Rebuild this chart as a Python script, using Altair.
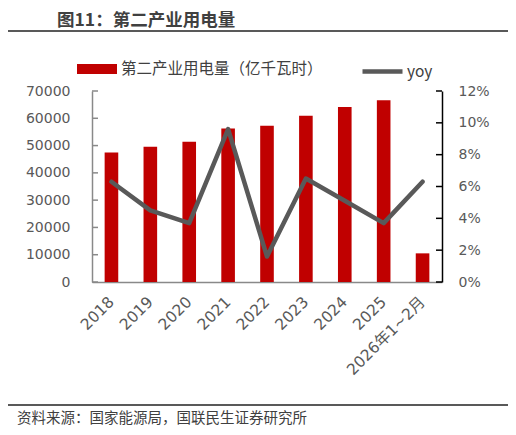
import altair as alt
import pandas as pd

categories = ["2018", "2019", "2020", "2021", "2022", "2023", "2024", "2025", "2026年1~2月"]
power = [47500, 49600, 51400, 56300, 57300, 60900, 64100, 66600, 10500]
yoy = [0.063, 0.045, 0.037, 0.096, 0.016, 0.065, 0.051, 0.037, 0.063]
left_ticks = [0, 10000, 20000, 30000, 40000, 50000, 60000, 70000]
right_ticks = [0, 0.02, 0.04, 0.06, 0.08, 0.10, 0.12]

bar_name = "第二产业用电量（亿千瓦时）"
line_name = "yoy"
title_text = "图11：第二产业用电量"
source_text = "资料来源：国家能源局，国联民生证券研究所"

FONT = "Noto Sans CJK SC"
NUMFONT = "DejaVu Sans, Noto Sans CJK SC"
W, H = 350, 191

df = pd.DataFrame({"cat": categories, "power": power, "yoy": yoy,
                   "s1": [bar_name] * len(categories), "s2": [line_name] * len(categories)})

xenc = alt.X("cat:N", sort=categories, title=None,
             scale=alt.Scale(paddingInner=0.65, paddingOuter=0.325),
             axis=alt.Axis(labelAngle=-45, labelAlign="right", labelBaseline="middle",
                           labelFontSize=15.5, labelColor="#595959", labelFont=NUMFONT,
                           ticks=False, domainColor="#898989", domainWidth=1.5,
                           labelPadding=17, labelLimit=0))

bars = alt.Chart(df).mark_bar().encode(
    x=xenc,
    y=alt.Y("power:Q", title=None,
            scale=alt.Scale(domain=[0, 70000], nice=False),
            axis=alt.Axis(orient="left", values=left_ticks, format="d", ticks=False,
                          grid=False, labelFontSize=14, labelColor="#595959", labelFont=NUMFONT,
                          domainColor="#898989", domainWidth=1.5, labelPadding=22)),
    color=alt.Color("s1:N", scale=alt.Scale(domain=[bar_name], range=["#c00000"]),
                    legend=alt.Legend(orient="none", legendX=-15, legendY=-42, title=None,
                                      symbolType="M-1,-0.25H1V0.25H-1Z", symbolSize=1600,
                                      symbolStrokeWidth=0, labelFontSize=15.5,
                                      labelColor="#404040", labelFont=FONT, labelOffset=4,
                                      labelLimit=0, padding=0)),
)

line = alt.Chart(df).mark_line(strokeWidth=4.5, strokeJoin="round", strokeCap="round").encode(
    x=alt.X("cat:N", sort=categories),
    y=alt.Y("yoy:Q", title=None,
            scale=alt.Scale(domain=[0, 0.12], nice=False),
            axis=alt.Axis(orient="right", values=right_ticks, format=".0%", ticks=False,
                          grid=False, labelFontSize=14, labelColor="#595959", labelFont=NUMFONT,
                          domainColor="#000000", domainWidth=1.5, labelPadding=16)),
    stroke=alt.Stroke("s2:N", scale=alt.Scale(domain=[line_name], range=["#595959"]),
                      legend=alt.Legend(orient="none", legendX=268, legendY=-42, title=None,
                                        symbolType="stroke", symbolSize=1600,
                                        symbolStrokeWidth=4.5, labelFontSize=15.5,
                                        labelColor="#404040", labelFont=FONT, labelOffset=2,
                                        labelLimit=0, padding=0)),
)

lt = pd.DataFrame({"v": left_ticks})
left_tick_rules = alt.Chart(lt).mark_rule(color="#898989", strokeWidth=1.5).encode(
    y=alt.Y("v:Q", scale=alt.Scale(domain=[0, 70000], nice=False), axis=None),
    x=alt.value(0), x2=alt.value(6))

rt = pd.DataFrame({"v": right_ticks})
right_tick_rules = alt.Chart(rt).mark_rule(color="#000000", strokeWidth=1.5).encode(
    y=alt.Y("v:Q", scale=alt.Scale(domain=[0, 0.12], nice=False), axis=None),
    x=alt.value(W - 6), x2=alt.value(W))

one = pd.DataFrame({"t": [title_text], "s": [source_text]})
title = alt.Chart(one).mark_text(align="left", baseline="middle", fontSize=17.5,
                                 fontWeight="bold", font=FONT, color="#404040").encode(
    text="t:N", x=alt.value(-35), y=alt.value(-70))
source = alt.Chart(one).mark_text(align="left", baseline="middle", fontSize=14.5,
                                  font=FONT, color="#404040").encode(
    text="s:N", x=alt.value(-75), y=alt.value(328))
top_rule = alt.Chart(one).mark_rule(color="#595959", strokeWidth=2).encode(
    x=alt.value(-86), x2=alt.value(418), y=alt.value(-60))
bottom_rule = alt.Chart(one).mark_rule(color="#595959", strokeWidth=2).encode(
    x=alt.value(-86), x2=alt.value(418), y=alt.value(314))

chart = alt.layer(bars, line, left_tick_rules, right_tick_rules,
                  title, source, top_rule, bottom_rule).resolve_scale(
    y="independent").properties(
    width=W, height=H,
    padding={"left": 84, "top": 83, "right": 66, "bottom": 152},
    autosize=alt.AutoSizeParams(type="none"),
).configure_view(stroke=None)

chart.save("out.html", embed_options={"renderer": "svg", "actions": False})
